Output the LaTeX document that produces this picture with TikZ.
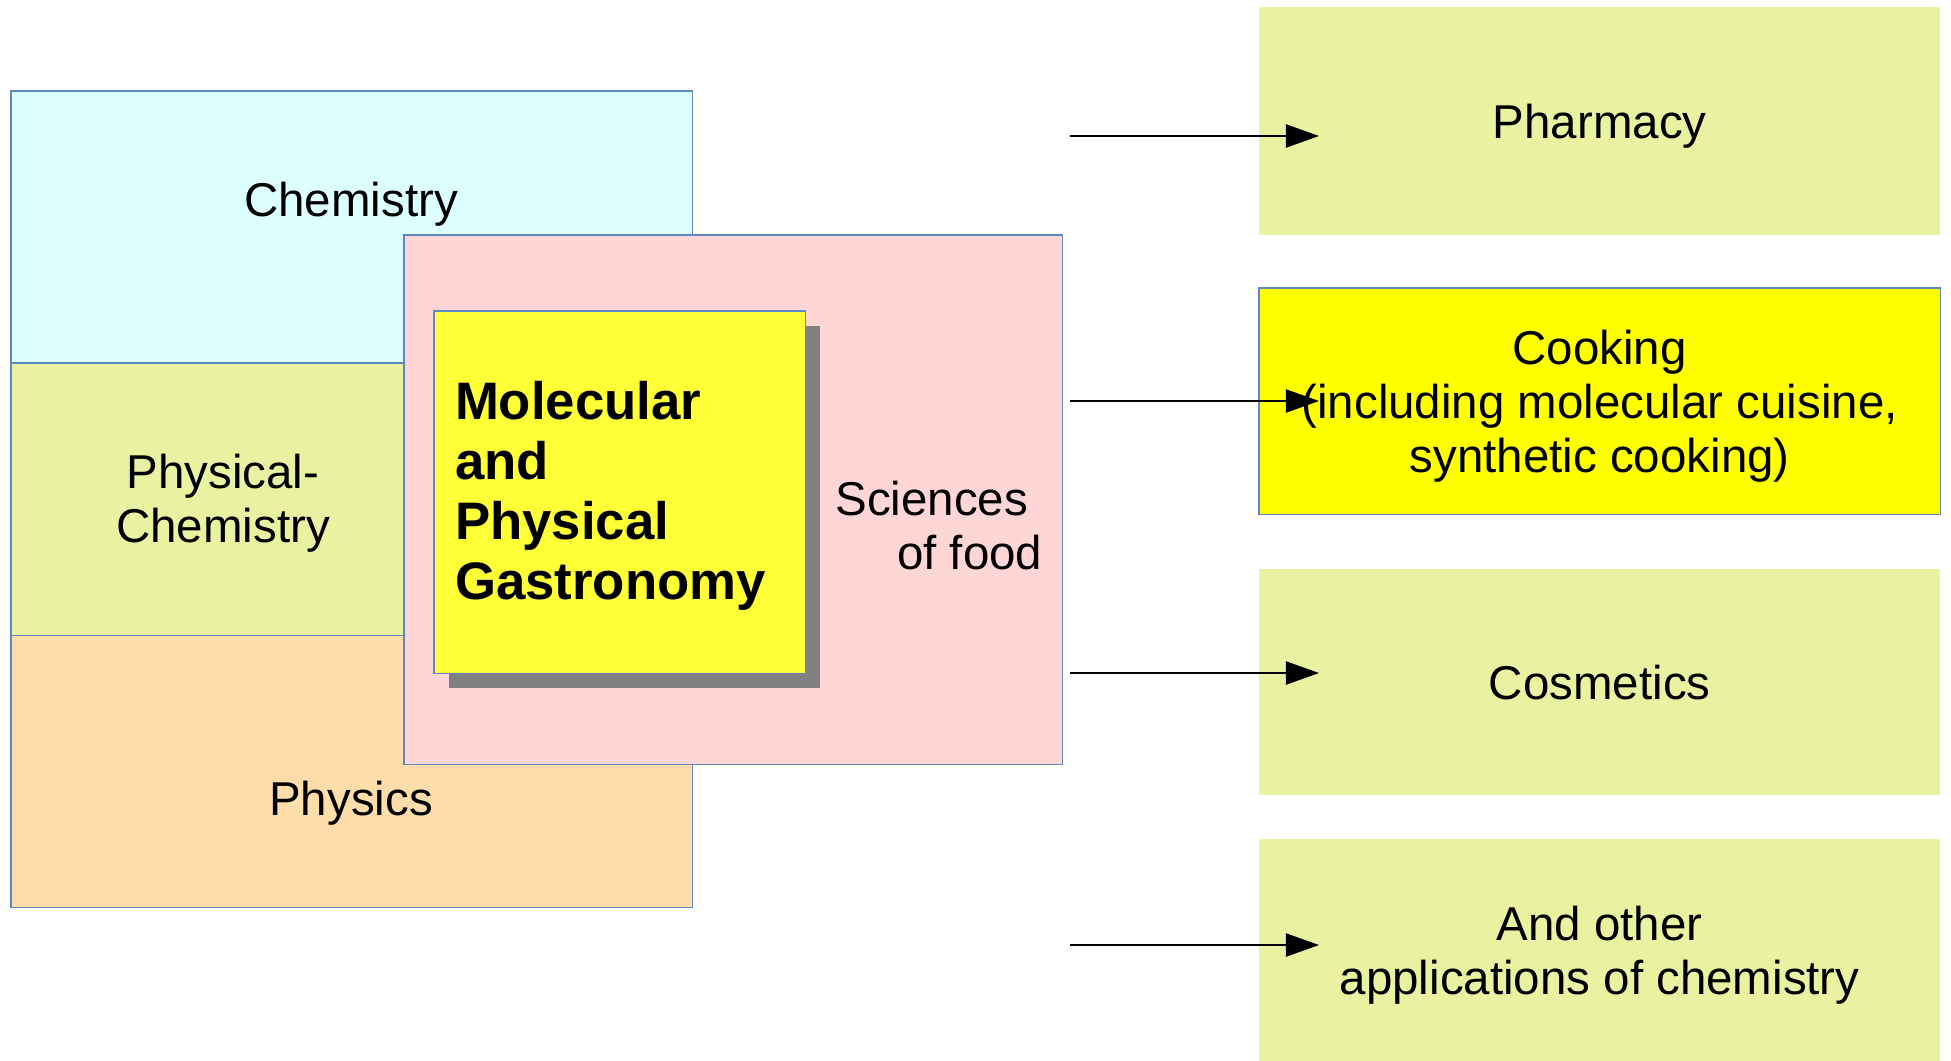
\documentclass[tikz,border=0pt]{standalone}
\usepackage{fontspec}
\setmainfont{Liberation Sans}
\usetikzlibrary{positioning, arrows.meta, shadows}

\definecolor{chemcol}{RGB}{221,255,255}
\definecolor{greencol}{RGB}{232,242,161}
\definecolor{physcol}{RGB}{254,221,170}
\definecolor{foodcol}{RGB}{255,214,214}
\definecolor{mpgcol}{RGB}{255,255,56}
\definecolor{cookcol}{RGB}{255,255,0}
\definecolor{edgecol}{RGB}{95,135,195}
\definecolor{shadowcol}{RGB}{128,128,128}

\begin{document}
\begin{tikzpicture}[x=0.01cm, y=-0.01cm,
	field/.style={rectangle, draw=edgecol, line width=0.4pt, inner sep=0pt, outer sep=0pt, minimum width=6.81cm, minimum height=2.72cm},
	appl/.style={rectangle, fill=greencol, inner sep=2pt, outer sep=0pt, minimum width=6.81cm, minimum height=2.26cm, align=center, text depth=0pt, font=\fontsize{13.5}{15.3}\selectfont},
	mylabel/.style={align=center, inner sep=0pt, text depth=0pt, font=\fontsize{13.5}{15.3}\selectfont},
	>={Triangle[length=3.3mm, width=2.3mm]}
]
\useasboundingbox (0,0) rectangle (1951,1061);

\node[field, fill=chemcol, anchor=north west] (chem) at (11,91) {};
\node[field, fill=greencol, below=0pt of chem] (physchem) {};
\node[field, fill=physcol, below=0pt of physchem] (phys) {};
\node[field, fill=foodcol, minimum width=6.58cm, minimum height=5.29cm, anchor=north west] (food) at (404,235) {};
\node[field, fill=mpgcol, minimum width=3.71cm, minimum height=3.62cm, anchor=north west, inner xsep=0.21cm, text width=3.29cm, text depth=52pt, align=left, font=\fontsize{15}{17}\selectfont\bfseries, drop shadow={shadow xshift=0.15cm, shadow yshift=-0.15cm, fill=shadowcol, opacity=1}] (mpg) at (434,311) {Molecular\\and\\Physical\\Gastronomy};

\node[mylabel] (chemtxt) at (351,199) {Chemistry};
\node[mylabel] (physchemtxt) at (223,498) {Physical-\\Chemistry};
\node[mylabel] (phystxt) at (351,798) {Physics};
\node[mylabel, align=right, anchor=east] (foodtxt) at (1043,525) {Sciences\hspace*{0.3em}\\of food};

\node[appl, minimum height=2.28cm, anchor=north west] (pharm) at (1259,7) {Pharmacy};
\node[appl, fill=cookcol, draw=edgecol, line width=0.4pt, below=0.53cm of pharm] (cook) {Cooking\\(including molecular cuisine,\\synthetic cooking)};
\node[appl, below=0.55cm of cook] (cosm) {Cosmetics};
\node[appl, minimum height=2.22cm, below=0.44cm of cosm] (other) {And other\\applications of chemistry};

\coordinate (pharmfrom) at (1070,136);
\coordinate (pharmto) at (1319,136);
\coordinate (cookfrom) at (1070,401);
\coordinate (cookto) at (1319,401);
\coordinate (cosmfrom) at (1070,673);
\coordinate (cosmto) at (1319,673);
\coordinate (otherfrom) at (1070,945);
\coordinate (otherto) at (1319,945);

\draw[->, line width=0.6pt] (pharmfrom) -- (pharmto);
\draw[->, line width=0.6pt] (cookfrom) -- (cookto);
\draw[->, line width=0.6pt] (cosmfrom) -- (cosmto);
\draw[->, line width=0.6pt] (otherfrom) -- (otherto);

\end{tikzpicture}
\end{document}
